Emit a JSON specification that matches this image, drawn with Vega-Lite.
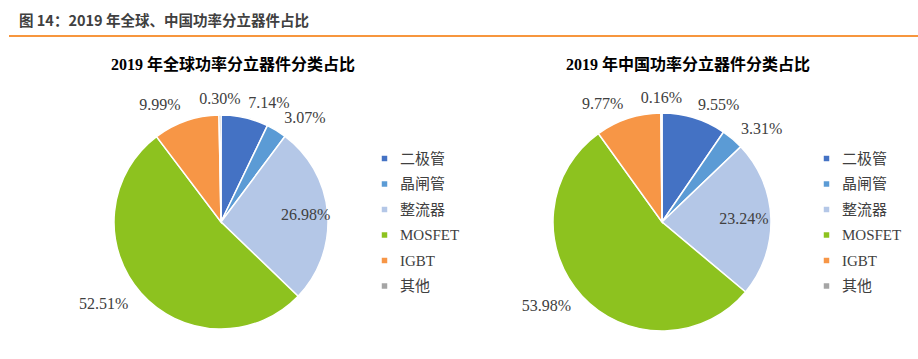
{
  "$schema": "https://vega.github.io/schema/vega-lite/v6.json",
  "padding": {"left": 8, "top": 13, "right": 0, "bottom": 0},
  "background": "white",
  "config": {"view": {"stroke": null}, "font": "Liberation Serif, Noto Sans CJK SC"},
  "datasets": {
    "global": [
      {"idx": 1, "cat": "二极管", "value": 7.14, "label": "7.14%"},
      {"idx": 2, "cat": "晶闸管", "value": 3.07, "label": "3.07%"},
      {"idx": 3, "cat": "整流器", "value": 26.98, "label": "26.98%"},
      {"idx": 4, "cat": "MOSFET", "value": 52.51, "label": "52.51%"},
      {"idx": 5, "cat": "IGBT", "value": 9.99, "label": "9.99%"},
      {"idx": 6, "cat": "其他", "value": 0.30, "label": "0.30%"}
    ],
    "china": [
      {"idx": 1, "cat": "二极管", "value": 9.55, "label": "9.55%"},
      {"idx": 2, "cat": "晶闸管", "value": 3.31, "label": "3.31%"},
      {"idx": 3, "cat": "整流器", "value": 23.24, "label": "23.24%"},
      {"idx": 4, "cat": "MOSFET", "value": 53.98, "label": "53.98%"},
      {"idx": 5, "cat": "IGBT", "value": 9.77, "label": "9.77%"},
      {"idx": 6, "cat": "其他", "value": 0.16, "label": "0.16%"}
    ]
  },
  "vconcat": [
    {
      "width": 910,
      "height": 2,
      "title": {"text": "图 14：2019 年全球、中国功率分立器件占比", "anchor": "start", "font": "Noto Sans CJK SC", "fontSize": 14.5, "fontWeight": "bold", "color": "#404040", "offset": 5, "dx": 11},
      "data": {"values": [{"v": 0}]},
      "mark": {"type": "rule", "color": "#F7963D", "strokeWidth": 2},
      "encoding": {"y": {"field": "v", "type": "quantitative", "axis": null, "scale": {"domain": [0, 1]}}}
    },
    {
      "hconcat": [
        {
          "width": 424,
          "height": 240,
          "title": {"text": "2019 年全球功率分立器件分类占比", "fontSize": 16, "fontWeight": "bold", "font": "Liberation Serif, Noto Sans CJK SC", "color": "#000000", "dx": 12, "offset": 17},
          "data": {"name": "global"},
          "encoding": {
            "theta": {"field": "value", "type": "quantitative", "stack": true},
            "order": {"field": "idx", "type": "quantitative"},
            "color": {"field": "cat", "type": "nominal",
              "scale": {"domain": ["二极管", "晶闸管", "整流器", "MOSFET", "IGBT", "其他"], "range": ["#4472C4", "#5B9BD5", "#B4C7E7", "#8DC21F", "#F79646", "#A5A5A5"]},
              "legend": {"orient": "none", "legendX": 368, "legendY": 49, "title": null, "symbolType": "square", "symbolSize": 30, "symbolStrokeWidth": 0, "labelFont": "Liberation Serif, Noto Sans CJK SC", "labelFontSize": 15, "labelColor": "#404040", "rowPadding": 9.5, "labelOffset": 8}}
          },
          "layer": [
            {"mark": {"type": "arc", "outerRadius": 107, "stroke": "white", "strokeWidth": 1.5}},
            {"mark": {"type": "text", "radius": 124, "align": "right", "baseline": "middle", "font": "Liberation Serif", "fontSize": 16, "fill": "#404040"},
             "encoding": {"color": {"value": "#404040"}, "detail": {"field": "cat"}, "text": {"condition": {"test": "indexof(['MOSFET','IGBT'], datum.cat) >= 0", "field": "label"}, "value": ""}}},
            {"mark": {"type": "text", "radius": 122, "align": "left", "baseline": "middle", "font": "Liberation Serif", "fontSize": 16, "fill": "#404040"},
             "encoding": {"color": {"value": "#404040"}, "detail": {"field": "cat"}, "text": {"condition": {"test": "indexof(['二极管','晶闸管'], datum.cat) >= 0", "field": "label"}, "value": ""}}},
            {"mark": {"type": "text", "radius": 123, "align": "center", "baseline": "middle", "font": "Liberation Serif", "fontSize": 16, "fill": "#404040"},
             "encoding": {"color": {"value": "#404040"}, "detail": {"field": "cat"}, "text": {"condition": {"test": "datum.cat == '其他'", "field": "label"}, "value": ""}}},
            {"mark": {"type": "text", "radius": 85, "align": "center", "baseline": "middle", "font": "Liberation Serif", "fontSize": 16, "fill": "#404040"},
             "encoding": {"color": {"value": "#404040"}, "detail": {"field": "cat"}, "text": {"condition": {"test": "datum.cat == '整流器'", "field": "label"}, "value": ""}}}
          ]
        },
        {
          "width": 424,
          "height": 240,
          "title": {"text": "2019 年中国功率分立器件分类占比", "fontSize": 16, "fontWeight": "bold", "font": "Liberation Serif, Noto Sans CJK SC", "color": "#000000", "dx": 26, "offset": 17},
          "data": {"name": "china"},
          "encoding": {
            "theta": {"field": "value", "type": "quantitative", "stack": true},
            "order": {"field": "idx", "type": "quantitative"},
            "color": {"field": "cat", "type": "nominal",
              "scale": {"domain": ["二极管", "晶闸管", "整流器", "MOSFET", "IGBT", "其他"], "range": ["#4472C4", "#5B9BD5", "#B4C7E7", "#8DC21F", "#F79646", "#A5A5A5"]},
              "legend": {"orient": "none", "legendX": 369, "legendY": 49, "title": null, "symbolType": "square", "symbolSize": 30, "symbolStrokeWidth": 0, "labelFont": "Liberation Serif, Noto Sans CJK SC", "labelFontSize": 15, "labelColor": "#404040", "rowPadding": 9.5, "labelOffset": 8}}
          },
          "layer": [
            {"mark": {"type": "arc", "outerRadius": 109, "stroke": "white", "strokeWidth": 1.5}},
            {"mark": {"type": "text", "radius": 124, "align": "right", "baseline": "middle", "font": "Liberation Serif", "fontSize": 16, "fill": "#404040"},
             "encoding": {"color": {"value": "#404040"}, "detail": {"field": "cat"}, "text": {"condition": {"test": "indexof(['MOSFET','IGBT'], datum.cat) >= 0", "field": "label"}, "value": ""}}},
            {"mark": {"type": "text", "radius": 122, "align": "left", "baseline": "middle", "font": "Liberation Serif", "fontSize": 16, "fill": "#404040"},
             "encoding": {"color": {"value": "#404040"}, "detail": {"field": "cat"}, "text": {"condition": {"test": "indexof(['二极管','晶闸管'], datum.cat) >= 0", "field": "label"}, "value": ""}}},
            {"mark": {"type": "text", "radius": 124, "align": "center", "baseline": "middle", "font": "Liberation Serif", "fontSize": 16, "fill": "#404040"},
             "encoding": {"color": {"value": "#404040"}, "detail": {"field": "cat"}, "text": {"condition": {"test": "datum.cat == '其他'", "field": "label"}, "value": ""}}},
            {"mark": {"type": "text", "radius": 82, "align": "center", "baseline": "middle", "font": "Liberation Serif", "fontSize": 16, "fill": "#404040"},
             "encoding": {"color": {"value": "#404040"}, "detail": {"field": "cat"}, "text": {"condition": {"test": "datum.cat == '整流器'", "field": "label"}, "value": ""}}}
          ]
        }
      ],
      "spacing": 17,
      "bounds": "flush",
      "resolve": {"scale": {"color": "independent"}}
    }
  ],
  "spacing": 20
}
